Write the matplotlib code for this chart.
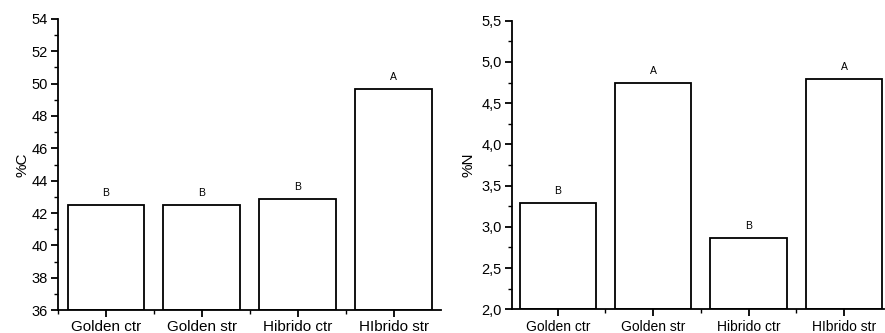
import matplotlib
matplotlib.use("Agg")
from matplotlib import pyplot as plt
from matplotlib.ticker import MultipleLocator, FuncFormatter

plt.rcParams['font.family'] = ['Liberation Sans', 'DejaVu Sans']

# datos
categorias = ["Golden ctr", "Golden str", "Hibrido ctr", "HIbrido str"]
carbono = [42.5, 42.5, 42.87, 49.68]
letras_c = ["B", "B", "B", "A"]
nitrogeno = [3.29, 4.74, 2.87, 4.79]
letras_n = ["B", "A", "B", "A"]

fig = plt.figure(figsize=(8.85, 3.33), dpi=100)
ax1 = fig.add_axes([0.0655, 0.069, 0.4325, 0.874])
ax2 = fig.add_axes([0.5785, 0.071, 0.4205, 0.867])


def estilo(ax):
    ax.spines['top'].set_visible(False)
    ax.spines['right'].set_visible(False)
    for s in ('left', 'bottom'):
        ax.spines[s].set_linewidth(1.3)
    ax.tick_params(which='major', direction='out', length=5, width=1.3, pad=2.5)
    ax.tick_params(which='minor', direction='out', length=3, width=1.0)
    ax.xaxis.set_minor_locator(MultipleLocator(1.0, offset=0.5))


def barras(ax, valores, letras, base, xsize):
    x = range(len(valores))
    alturas = [v - base for v in valores]
    ax.bar(x, alturas, bottom=base, width=0.8, color='white',
           edgecolor='black', linewidth=1.3)
    for i, (v, l) in enumerate(zip(valores, letras)):
        ax.annotate(l, (i, v), xytext=(0, 5), textcoords='offset points',
                    ha='center', va='bottom', fontsize=7.5)
    ax.set_xticks(list(x))
    ax.set_xticklabels(categorias, fontsize=xsize)


# panel %C
barras(ax1, carbono, letras_c, 36, 11)
ax1.set_ylim(36, 54)
ax1.set_xlim(-0.5, 3.49)
ax1.yaxis.set_major_locator(MultipleLocator(2))
ax1.yaxis.set_minor_locator(MultipleLocator(1))
ax1.set_ylabel("%C", fontsize=11, labelpad=1)
ax1.tick_params(axis='y', labelsize=10.5)
estilo(ax1)

# panel %N
barras(ax2, nitrogeno, letras_n, 2.0, 10)
ax2.set_ylim(2.0, 5.5)
ax2.set_xlim(-0.48, 3.42)
ax2.yaxis.set_major_locator(MultipleLocator(0.5))
ax2.yaxis.set_minor_locator(MultipleLocator(0.25))
ax2.yaxis.set_major_formatter(FuncFormatter(lambda v, p: ("%.1f" % v).replace(".", ",")))
ax2.set_ylabel("%N", fontsize=11, labelpad=4)
ax2.tick_params(axis='y', labelsize=10.5)
estilo(ax2)

plt.savefig("out.png", dpi=100)
plt.close()
